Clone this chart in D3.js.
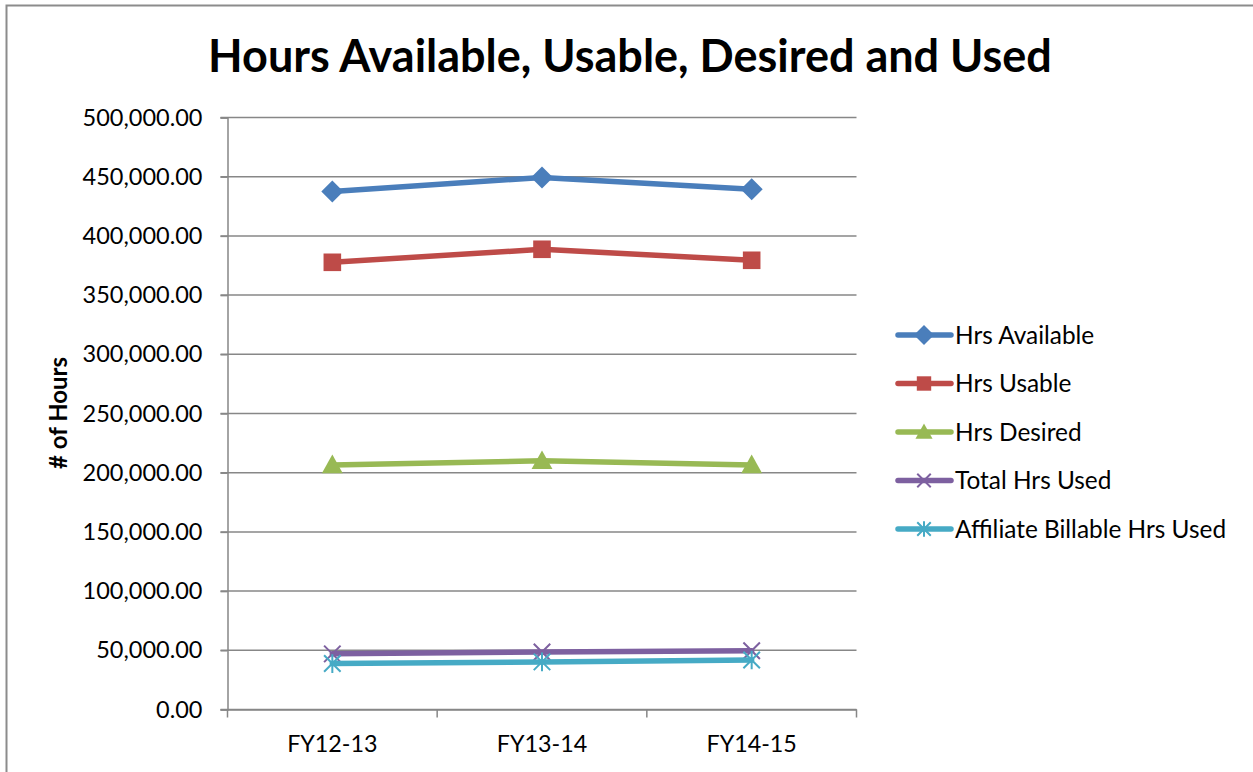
<!DOCTYPE html>
<html><head><meta charset="utf-8">
<script src="https://cdn.jsdelivr.net/npm/d3@7"></script>
<style>body{margin:0;background:#fff;} svg{display:block;} text{font-family:Lato,"Open Sans",sans-serif;}</style>
</head><body><svg id="c" width="1253" height="772"></svg>
<script>
const categories = ["FY12-13","FY13-14","FY14-15"];
const seriesNames = ["Hrs Available","Hrs Usable","Hrs Desired","Total Hrs Used","Affiliate Billable Hrs Used"];
const hrsAvailable = [437600, 449400, 439300];
const hrsUsable = [377700, 388700, 379400];
const hrsDesired = [206600, 210000, 206600];
const totalHrsUsed = [47000, 48600, 49600];
const affiliateBillable = [38800, 40200, 41800];
const yTicks = [0,50000,100000,150000,200000,250000,300000,350000,400000,450000,500000];
const colors = ["#4A7EBB","#BE4B48","#98B954","#7D60A0","#46AAC5"];
const markers = ["diamond","square","triangle","x","star"];
const title = "Hours Available, Usable, Desired and Used";
const yTitle = "# of Hours";

const series = [hrsAvailable,hrsUsable,hrsDesired,totalHrsUsed,affiliateBillable].map((v,i)=>({name:seriesNames[i],values:v,color:colors[i],marker:markers[i]}));

const svg = d3.select("#c");
svg.append("rect").attr("x",6.5).attr("y",5.5).attr("width",1260).attr("height",800).attr("fill","#fff").attr("stroke","#8c8c8c").attr("stroke-width",2);

const L=227.5, R=856.5, T=117.5, B=709.5;
const x = d3.scaleBand().domain(categories).range([L,R]);
const y = d3.scaleLinear().domain([0,500000]).range([B,T]);

const g = svg.append("g");
g.selectAll(".grid").data(yTicks).join("line").attr("x1",L-7).attr("x2",R).attr("y1",d=>y(d)).attr("y2",d=>y(d)).attr("stroke","#878787").attr("stroke-width",1.5);

const yAxis = d3.axisLeft(y).tickValues(yTicks).tickSize(7).tickPadding(18).tickFormat(d3.format(",.2f"));
const ya = svg.append("g").attr("transform",`translate(${L},0)`).call(yAxis);
ya.select(".domain").attr("stroke","#878787").attr("stroke-width",1.5);
ya.selectAll(".tick line").attr("stroke","#878787").attr("stroke-width",1.5);
ya.selectAll("text").attr("font-size",23.5).attr("fill","#000").style("font-family","Lato");

const xAxis = d3.axisBottom(x).tickSize(0).tickPadding(26);
const xa = svg.append("g").attr("transform",`translate(0,${B})`).call(xAxis);
xa.select(".domain").attr("stroke","#878787").attr("stroke-width",1.5);
xa.selectAll("text").attr("font-size",23.3).attr("fill","#000").style("font-family","Lato");
const bounds = categories.map(c=>x(c)).concat([R]);
svg.append("g").selectAll("line").data(bounds).join("line").attr("x1",d=>d).attr("x2",d=>d).attr("y1",B).attr("y2",B+8).attr("stroke","#878787").attr("stroke-width",1.5);

svg.append("text").attr("x",630).attr("y",72).attr("text-anchor","middle").attr("font-size",45).attr("font-weight","bold").text(title);
svg.append("text").attr("transform","translate(67,413) rotate(-90)").attr("text-anchor","middle").attr("font-size",24).attr("font-weight","bold").text(yTitle);

const cx = c => x(c)+x.bandwidth()/2;
function drawMarker(sel, type, color, s){
  if(type==="diamond") sel.append("path").attr("d",`M0,${-s}L${s},0L0,${s}L${-s},0Z`).attr("fill",color);
  else if(type==="square") sel.append("rect").attr("x",-s*0.8).attr("y",-s*0.8).attr("width",s*1.6).attr("height",s*1.6).attr("fill",color);
  else if(type==="triangle") sel.append("path").attr("d",`M0,${-s*0.95}L${s*0.95},${s*0.75}L${-s*0.95},${s*0.75}Z`).attr("fill",color);
  else if(type==="x") sel.append("path").attr("d",`M${-s*0.75},${-s*0.75}L${s*0.75},${s*0.75}M${s*0.75},${-s*0.75}L${-s*0.75},${s*0.75}`).attr("stroke",color).attr("stroke-width",2);
  else if(type==="star") sel.append("path").attr("d",`M${-s*0.75},${-s*0.75}L${s*0.75},${s*0.75}M${s*0.75},${-s*0.75}L${-s*0.75},${s*0.75}M0,${-s*0.85}L0,${s*0.85}`).attr("stroke",color).attr("stroke-width",2);
}
const line = d3.line().x((d,i)=>cx(categories[i])).y(d=>y(d));
series.forEach(s=>{
  svg.append("path").datum(s.values).attr("d",line).attr("fill","none").attr("stroke",s.color).attr("stroke-width",5.5).attr("stroke-linejoin","round").attr("stroke-linecap","round");
  s.values.forEach((v,i)=>{
    const m = svg.append("g").attr("transform",`translate(${cx(categories[i])},${y(v)})`);
    drawMarker(m, s.marker, s.color, 11);
  });
});

const lg = svg.append("g");
series.forEach((s,i)=>{
  const yy = 335 + i*48.5;
  lg.append("line").attr("x1",898).attr("x2",951).attr("y1",yy).attr("y2",yy).attr("stroke",s.color).attr("stroke-width",5.5).attr("stroke-linecap","round");
  const m = lg.append("g").attr("transform",`translate(924,${yy})`);
  drawMarker(m, s.marker, s.color, s.marker==="diamond"?10:9);
  lg.append("text").attr("x",955).attr("y",yy).attr("dy","0.35em").attr("font-size",24.4).text(s.name);
});
</script></body></html>
